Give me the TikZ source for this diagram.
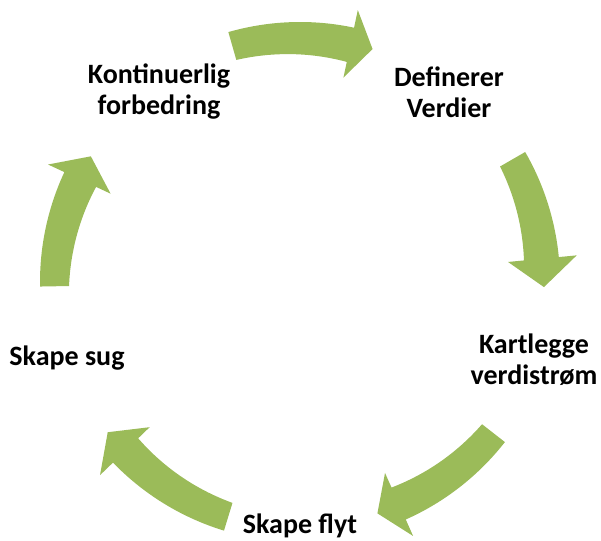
\documentclass[tikz,border=0pt]{standalone}
\usepackage{fontspec}
\setmainfont{Carlito}
\definecolor{cyclegreen}{HTML}{9BBB59}
\tikzset{
  steplabel/.style={font=\bfseries\fontsize{28}{31}\selectfont, align=center,
    inner sep=0pt, text=black},
  arrowfill/.style={fill=cyclegreen}
}
% Curved block arrow around the cycle centre, running clockwise.
% #1 tail angle, #2 neck angle (where the head starts), #3 tip angle
\newcommand\cyclearrow[3]{%
  \fill[arrowfill]
    plot[domain=#1:#2, samples=40] (\x:260)
    -- (#2:278) -- (#3:244) -- (#2:209)
    -- plot[domain=#2:#1, samples=40] (\x:{225+6*(\x-(#2))/((#1)-(#2))})
    -- cycle;
}
\begin{document}
\begin{tikzpicture}[x=1pt, y=1pt]
  \useasboundingbox (0,0) rectangle (601,540);
  \coordinate (C) at (300,258);

  % step labels
  \node[steplabel] (improve) at (159,448) {Kontinuerlig\\forbedring};
  \node[steplabel] (define)  at (449,448) {Definerer\\Verdier};
  \node[steplabel] (map)     at (534,180) {Kartlegge\\verdistrøm};
  \node[steplabel] (pull)    at (67,182)  {Skape sug};
  \node[steplabel] (flow)    at (300,14)  {Skape flyt};

  % arrows between the steps
  \begin{scope}[shift={(C)}]
    \cyclearrow{106}{78}{72.7}
    \cyclearrow{30}{5.5}{-1.2}
    \cyclearrow{-38}{-66}{-71.5}
    \cyclearrow{253}{224}{218}
    \cyclearrow{181}{155}{149}
  \end{scope}
\end{tikzpicture}
\end{document}
